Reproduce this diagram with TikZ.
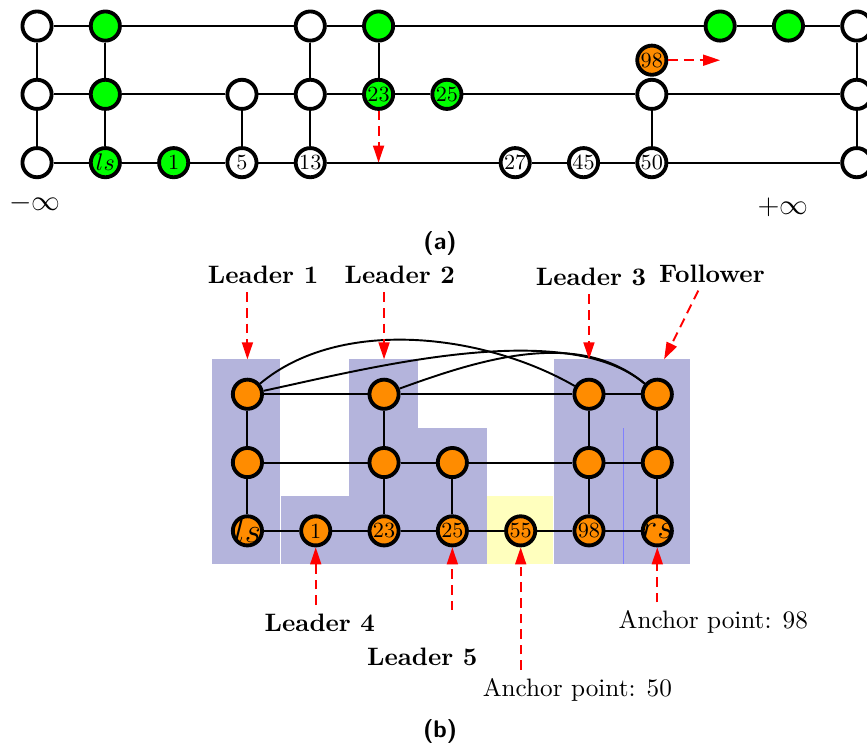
\documentclass[tikz,border=0pt]{standalone}
\usetikzlibrary{arrows.meta}
\definecolor{dorange}{RGB}{255,140,0}
\definecolor{zoneblue}{RGB}{180,180,220}
\definecolor{zoneyellow}{RGB}{255,255,190}
\tikzset{
  vtx/.style={circle,draw,line width=1.6pt,minimum size=4.27mm,inner sep=0pt,fill=white,font=\small},
  hit/.style={vtx,fill=green},
  hot/.style={vtx,fill=dorange},
  big/.style={font=\Large,inner sep=-2pt},
  link/.style={thick},
  ptr/.style={red,thick,dash pattern=on 4pt off 2.5pt,-{Triangle[length=2.5mm,width=1.6mm]}},
  note/.style={font=\fontsize{10.5pt}{12pt}\selectfont},
  tag/.style={font=\fontsize{10.5pt}{12pt}\selectfont\bfseries},
}
\begin{document}
\begin{tikzpicture}[x=1cm,y=1cm]
\useasboundingbox (-0.542,0.381) rectangle (12.15,-10.586);
\clip (-0.542,0.381) rectangle (12.15,-10.586);
\node[vtx] (a00) at (0,0) {};
\node[hit] (a01) at (1,0) {};
\node[vtx] (a04) at (4,0) {};
\node[hit] (a05) at (5,0) {};
\node[hit] (a0a) at (10,0) {};
\node[hit] (a0b) at (11,0) {};
\node[vtx] (a0c) at (12,0) {};
\node[vtx] (a10) at (0,-1) {};
\node[hit] (a11) at (1,-1) {};
\node[vtx] (a13) at (3,-1) {};
\node[vtx] (a14) at (4,-1) {};
\node[hit] (a15) at (5,-1) {23};
\node[hit] (a16) at (6,-1) {25};
\node[vtx] (a19) at (9,-1) {};
\node[vtx] (a1c) at (12,-1) {};
\node[vtx] (a20) at (0,-2) {};
\node[hit,font=\normalsize] (a21) at (1,-2) {$ls$};
\node[hit] (a22) at (2,-2) {1};
\node[vtx] (a23) at (3,-2) {5};
\node[vtx] (a24) at (4,-2) {13};
\node[vtx] (a27) at (7,-2) {27};
\node[vtx] (a28) at (8,-2) {45};
\node[vtx] (a29) at (9,-2) {50};
\node[vtx] (a2c) at (12,-2) {};
\node[hot] (a98) at (9,-0.5) {98};
\draw[link] (a00) -- (a01) -- (a04) -- (a05) -- (a0a) -- (a0b) -- (a0c);
\draw[link] (a10) -- (a11) -- (a13) -- (a14) -- (a15) -- (a16) -- (a19) -- (a1c);
\draw[link] (a20) -- (a21) -- (a22) -- (a23) -- (a24) -- (a27) -- (a28) -- (a29) -- (a2c);
\draw[link] (a00) -- (a10) -- (a20);
\draw[link] (a01) -- (a11) -- (a21);
\draw[link] (a13) -- (a23);
\draw[link] (a04) -- (a14) -- (a24);
\draw[link] (a05) -- (a15);
\draw[link] (a19) -- (a29);
\draw[link] (a0c) -- (a1c) -- (a2c);
\coordinate (drop) at (5,-2);
\coordinate (jump) at (10,-0.5);
\draw[ptr] (a15) -- (drop);
\draw[ptr] (a98) -- (jump);
\node (ninf) at (-0.03,-2.59) {\fontsize{13pt}{15pt}\selectfont$-\infty$};
\node (pinf) at (10.92,-2.65) {\fontsize{13pt}{15pt}\selectfont$+\infty$};
\node (capa) at (5.9,-3.18) {\textsf{\textbf{(a)}}};

\fill[zoneblue] (2.56,-4.88) rectangle (3.56,-7.88);
\fill[zoneblue] (3.57,-6.88) rectangle (4.58,-7.88);
\fill[zoneblue] (4.57,-4.88) rectangle (5.58,-7.88);
\fill[zoneblue] (5.58,-5.89) rectangle (6.59,-7.88);
\fill[zoneyellow] (6.59,-6.88) rectangle (7.56,-7.88);
\fill[zoneblue] (7.57,-4.88) rectangle (9.56,-7.88);
\draw[blue!50,very thin] (8.58,-5.89) -- (8.58,-7.88);
\node[hot] (t0) at (3.08,-5.39) {};
\node[hot] (t2) at (5.08,-5.39) {};
\node[hot] (t5) at (8.08,-5.39) {};
\node[hot] (t6) at (9.08,-5.39) {};
\node[hot] (m0) at (3.08,-6.39) {};
\node[hot] (m2) at (5.08,-6.39) {};
\node[hot] (m3) at (6.08,-6.39) {};
\node[hot] (m5) at (8.08,-6.39) {};
\node[hot] (m6) at (9.08,-6.39) {};
\node[hot,big] (b0) at (3.08,-7.39) {$ls$};
\node[hot] (b1) at (4.08,-7.39) {1};
\node[hot] (b2) at (5.08,-7.39) {23};
\node[hot] (b3) at (6.08,-7.39) {25};
\node[hot] (b4) at (7.08,-7.39) {55};
\node[hot] (b5) at (8.08,-7.39) {98};
\node[hot,big] (b6) at (9.08,-7.39) {$rs$};
\draw[link] (t0) -- (t2) -- (t5) -- (t6);
\draw[link] (m0) -- (m2) -- (m3) -- (m5) -- (m6);
\draw[link] (b0) -- (b1) -- (b2) -- (b3) -- (b4) -- (b5) -- (b6);
\draw[link] (t0) -- (m0) -- (b0);
\draw[link] (t2) -- (m2) -- (b2);
\draw[link] (m3) -- (b3);
\draw[link] (t5) -- (m5) -- (b5);
\draw[link] (t6) -- (m6) -- (b6);
\draw[link] (t0) to[out=40,in=150,looseness=0.85] (t5);
\draw[link] (t0) to[out=12,in=140,looseness=0.7] (t6);
\draw[link] (t2) to[out=20,in=140,looseness=0.9] (t6);

\coordinate (ztop) at (0,-4.88);
\node[tag] (l1) at (3.31,-3.646) {Leader 1};
\node[tag] (l2) at (5.31,-3.646) {Leader 2};
\node[tag] (l3) at (8.11,-3.675) {Leader 3};
\node[tag] (fol) at (9.88,-3.62) {Follower};
\node[tag] (l4) at (4.14,-8.73) {Leader 4};
\node[tag] (l5) at (5.64,-9.24) {Leader 5};
\node[note] (p50) at (7.91,-9.72) {Anchor point: 50};
\node[note] (p98) at (9.90,-8.73) {Anchor point: 98};
\coordinate (l5s) at (6.08,-8.55);
\draw[ptr] (l1.south -| t0) -- (t0 |- ztop);
\draw[ptr] (l2.south -| t2) -- (t2 |- ztop);
\draw[ptr] (l3.south -| t5) -- (t5 |- ztop);
\draw[ptr] ([xshift=-2mm]fol.south) -- ([xshift=1mm]t6 |- ztop);
\draw[ptr] (l4.north -| b1) -- (b1);
\draw[ptr] (l5s) -- (b3);
\draw[ptr] (p50.north -| b4) -- (b4);
\draw[ptr] (p98.north -| b6) -- (b6);
\node (capb) at (5.9,-10.32) {\textsf{\textbf{(b)}}};
\end{tikzpicture}
\end{document}
